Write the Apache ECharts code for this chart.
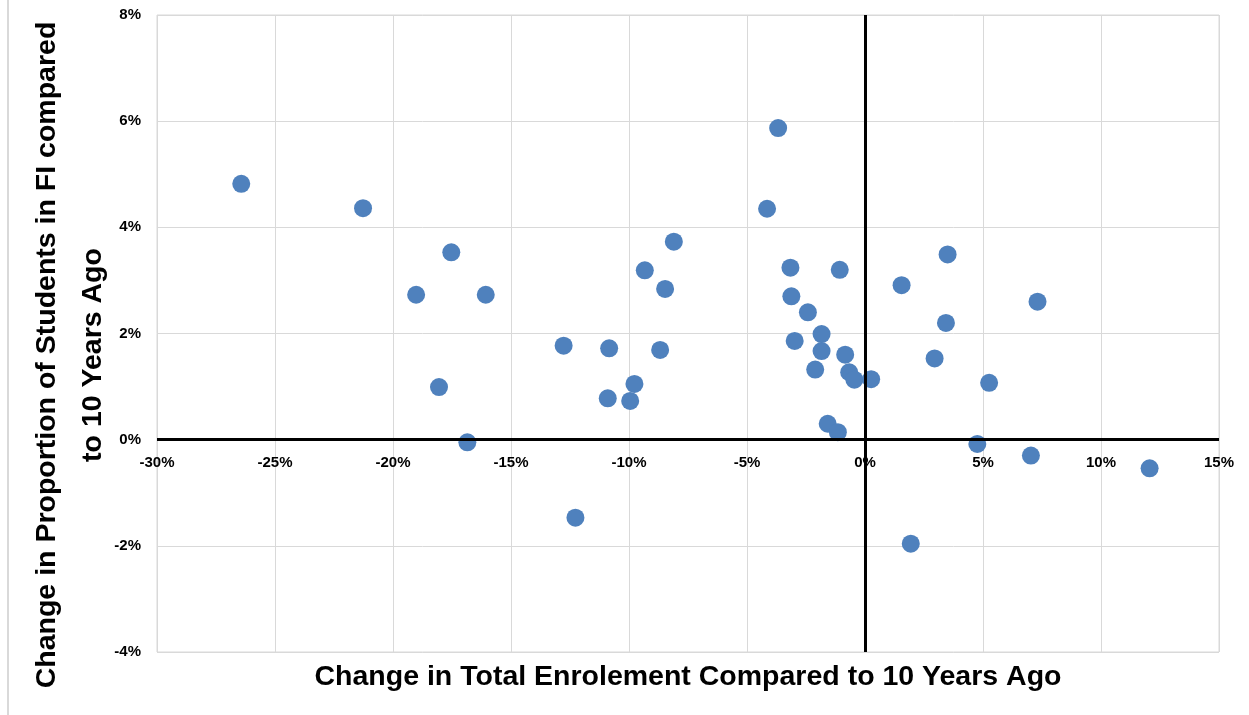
<!DOCTYPE html>
<html>
<head>
<meta charset="utf-8">
<script src="https://cdn.jsdelivr.net/npm/echarts@6/dist/echarts.min.js"></script>
<style>
html,body{margin:0;padding:0;background:#fff;}
#frame{position:absolute;left:7px;top:0;width:1242px;height:715px;border-left:2px solid #d9d9d9;box-sizing:border-box;}
#chart{position:absolute;left:0;top:0;width:1249px;height:715px;}
</style>
</head>
<body>
<div id="frame"></div>
<div id="chart"></div>
<script>
// Change in total enrolment (%) vs change in proportion of students in FI (%)
const enrolmentChange = [
  -26.43, -21.27, -17.53, -19.02, -16.07, -18.05, -16.85, -12.77, -12.27, -10.84,
  -10.90, -9.77, -9.95, -9.33, -8.47, -8.10, -8.68, -3.68, -4.15, -3.16,
  -3.12, -2.42, -2.98, -1.84, -1.84, -2.11, -1.07, -0.84, -0.67, -0.45,
  0.26, -1.58, -1.15, 1.55, 3.50, 3.43, 2.95, 5.26, 4.76, 7.31,
  7.03, 12.06, 1.94
];
const fiChange = [
  4.82, 4.36, 3.53, 2.73, 2.73, 0.99, -0.05, 1.77, -1.47, 1.72,
  0.78, 1.05, 0.73, 3.19, 2.84, 3.73, 1.69, 5.87, 4.35, 3.24,
  2.70, 2.40, 1.86, 1.99, 1.67, 1.32, 3.20, 1.60, 1.27, 1.13,
  1.14, 0.30, 0.14, 2.91, 3.49, 2.20, 1.53, 1.07, -0.08, 2.60,
  -0.30, -0.54, -1.96
];
const xTitle = 'Change in Total Enrolement Compared to 10 Years Ago';
const yTitle = 'Change in Proportion of Students in FI compared\nto 10 Years Ago';

const points = enrolmentChange.map((x, i) => [x, fiChange[i]]);
const font = '"Liberation Sans", Arial, sans-serif';

const gridTop = 15, gridBottom = 63, H = 715;
const yMin = -4, yMax = 8;
const plotH = H - gridTop - gridBottom;
// distance from plot bottom up to the y=0 line, so x labels sit under the zero line
const zeroOffset = -plotH * (0 - yMin) / (yMax - yMin);

const chart = echarts.init(document.getElementById('chart'));
chart.setOption({
  animation: false,
  grid: {left: 157, right: 30, top: gridTop, bottom: gridBottom, show: true, borderColor: '#d9d9d9', borderWidth: 1},
  xAxis: {
    type: 'value', min: -30, max: 15, interval: 5,
    offset: zeroOffset,
    axisLine: {show: false, onZero: false},
    axisTick: {show: false},
    axisLabel: {formatter: v => v + '%', fontFamily: font, fontWeight: 'bold', fontSize: 15, color: '#000', margin: 16},
    splitLine: {show: true, lineStyle: {color: '#d9d9d9', width: 1}}
  },
  yAxis: {
    type: 'value', min: yMin, max: yMax, interval: 2,
    axisLine: {show: false},
    axisTick: {show: false},
    axisLabel: {formatter: v => v + '%', fontFamily: font, fontWeight: 'bold', fontSize: 15, color: '#000', margin: 16},
    splitLine: {show: true, lineStyle: {color: '#d9d9d9', width: 1}}
  },
  series: [{
    type: 'scatter',
    data: points,
    symbolSize: 18,
    itemStyle: {color: '#4f81bd', opacity: 1},
    markLine: {
      silent: true, symbol: 'none', label: {show: false},
      lineStyle: {color: '#000', width: 3, type: 'solid'},
      data: [{xAxis: 0}, {yAxis: 0}]
    },
    z: 3
  }],
  graphic: [{
    type: 'text',
    x: 70, y: 355, rotation: Math.PI / 2,
    style: {
      text: yTitle, fontFamily: font, fontWeight: 'bold', fontSize: 28.5,
      fill: '#000', align: 'center', verticalAlign: 'middle', lineHeight: 46
    }
  }, {
    type: 'text',
    x: 688, y: 677,
    style: {
      text: xTitle, fontFamily: font, fontWeight: 'bold', fontSize: 28.5,
      fill: '#000', align: 'center', verticalAlign: 'middle'
    }
  }]
});
</script>
</body>
</html>
